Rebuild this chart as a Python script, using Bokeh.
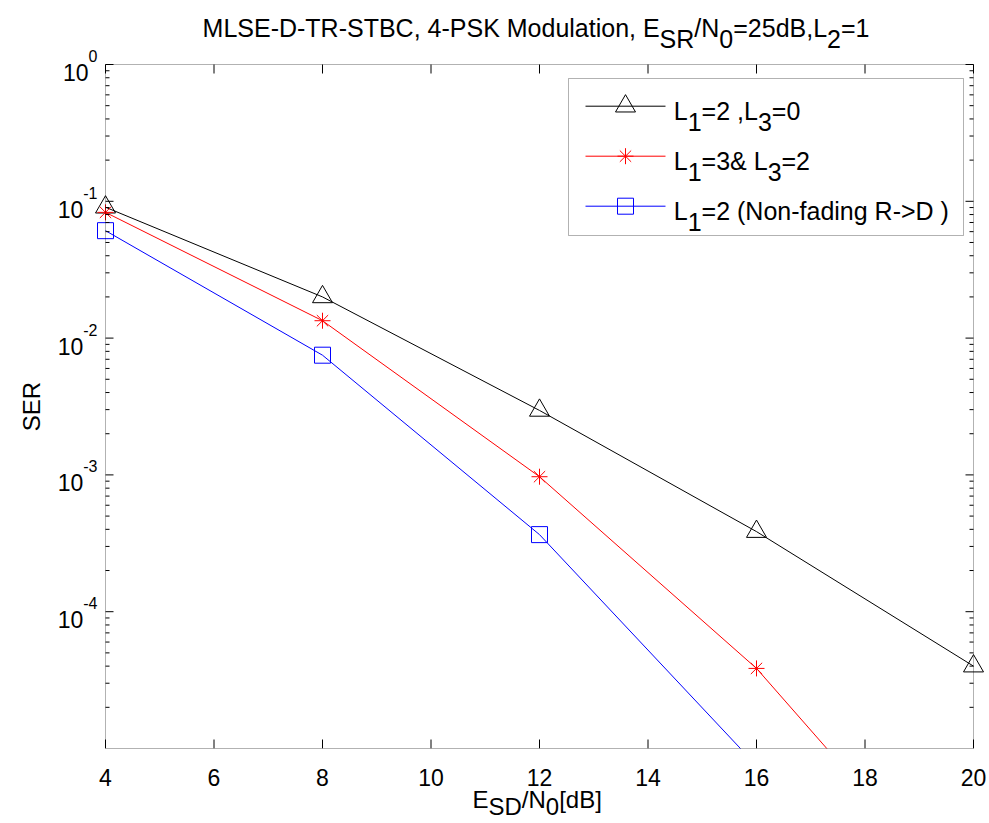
import math
from bokeh.plotting import figure
from bokeh.models import Label, BoxAnnotation, Range1d
from bokeh.embed import file_html
from bokeh.resources import INLINE

# ---------------- data ----------------
snr_black = [4, 8, 12, 16, 20]
ser_black = [0.0905, 0.0200, 0.00296, 0.000385, 4.0e-5]
snr_red = [4, 8, 12, 16, 20]
ser_red = [0.083, 0.0134, 0.00097, 3.85e-5, 6.0e-7]
snr_blue = [4, 8, 12, 16]
ser_blue = [0.061, 0.0075, 0.000366, 7.5e-6]

x_ticks = [4, 6, 8, 10, 12, 14, 16, 18, 20]
x_tick_labels = ["4", "6", "8", "10", "12", "14", "16", "18", "20"]
y_ticks = [1e-4, 1e-3, 1e-2, 1e-1, 1.0]
y_tick_exponents = ["-4", "-3", "-2", "-1", "0"]
y_minor = [k * 10.0 ** d for d in range(-5, 0) for k in range(2, 10)]

# text pieces: (text, is_subscript)
title_parts = [("MLSE-D-TR-STBC, 4-PSK Modulation, E", False), ("SR", True), ("/N", False),
               ("0", True), ("=25dB,L", False), ("2", True), ("=1", False)]
xlabel_parts = [("E", False), ("SD", True), ("/N", False), ("0", True), ("[dB]", False)]
ylabel_text = "SER"
legend_parts = [
    [("L", False), ("1", True), ("=2 ,L", False), ("3", True), ("=0", False)],
    [("L", False), ("1", True), ("=3& L", False), ("3", True), ("=2", False)],
    [("L", False), ("1", True), ("=2 (Non-fading R->D )", False)],
]
series_style = [("black", "triangle", 20), ("red", "asterisk", 16), ("blue", "square", 16)]

FONT = "Liberation Sans"
W = {'M': 833, 'L': 556, 'S': 667, 'E': 667, '-': 333, 'D': 722, 'T': 611, 'R': 722, 'B': 667,
     'C': 722, ',': 278, ' ': 278, '4': 556, 'P': 667, 'K': 667, 'o': 556, 'd': 556, 'u': 556,
     'l': 222, 'a': 556, 't': 278, 'i': 222, 'n': 556, '/': 278, 'N': 722, '0': 556, '=': 584,
     '2': 556, '5': 556, '1': 556, '3': 556, '&': 667, '(': 333, ')': 333, 'f': 278, 'g': 556,
     '>': 584, '[': 278, ']': 278}


def tw(s, size):
    return sum(W.get(c, 556) for c in s) * size / 1000.0


# canvas and axes-box geometry (pixels)
CW, CH = 988, 822
FL, FR, FT, FB = 105.0, 973.0, 64.0, 748.0
XMIN, XMAX = 4.0, 20.0
YMIN, YMAX = 1e-5, 1.0
LOG_SPAN = math.log10(YMAX) - math.log10(YMIN)


def X(px):
    return XMIN + (px - FL) / (FR - FL) * (XMAX - XMIN)


def Y(py):
    return 10 ** (math.log10(YMAX) - LOG_SPAN * (py - FT) / (FB - FT))


def PY(v):
    return FT + (math.log10(YMAX) - math.log10(v)) / LOG_SPAN * (FB - FT)


p = figure(width=CW, height=CH, x_range=Range1d(X(0), X(CW)), y_range=Range1d(Y(CH), Y(0)),
           y_axis_type="log", x_axis_location=None, y_axis_location=None,
           toolbar_location=None, output_backend="svg", title=None, min_border=0)
p.background_fill_color = "white"
p.border_fill_color = "white"
p.outline_line_color = None
for g in p.grid:
    g.visible = False
p.xgrid.grid_line_color = None
p.ygrid.grid_line_color = None

# ---------------- series ----------------
series = [(snr_black, ser_black), (snr_red, ser_red), (snr_blue, ser_blue)]
for (xs, ys), (col, mk, sz) in zip(series, series_style):
    p.line(xs, ys, line_color=col, line_width=1)
    p.scatter(xs, ys, marker=mk, size=sz, line_color=col, fill_color=None, line_width=1)

# mask everything that falls below the axes box (acts as the axes clip)
p.add_layout(BoxAnnotation(top=YMIN, fill_color="white", fill_alpha=1.0, line_color=None,
                           level="annotation"))

# ---------------- axes box and ticks ----------------
p.add_layout(BoxAnnotation(left=XMIN, right=XMAX, bottom=YMIN, top=YMAX, fill_color=None,
                           line_color="black", line_width=1, level="overlay"))
MAJ, MIN_ = 9, 4
# x ticks, bottom and top, pointing inward
p.segment(x0=x_ticks, y0=[YMIN] * len(x_ticks), x1=x_ticks, y1=[Y(FB - MAJ)] * len(x_ticks),
          line_color="black", line_width=1)
p.segment(x0=x_ticks, y0=[YMAX] * len(x_ticks), x1=x_ticks, y1=[Y(FT + MAJ)] * len(x_ticks),
          line_color="black", line_width=1)
# y ticks, left and right
for ticks, ln in ((y_ticks, MAJ - 1), (y_minor, MIN_)):
    n = len(ticks)
    p.segment(x0=[XMIN] * n, y0=ticks, x1=[X(FL + ln)] * n, y1=ticks, line_color="black", line_width=1)
    p.segment(x0=[XMAX] * n, y0=ticks, x1=[X(FR - ln)] * n, y1=ticks, line_color="black", line_width=1)


def add_label(px, py, text, size, align="left", angle=0.0):
    p.add_layout(Label(x=X(px), y=Y(py), text=text, text_font=FONT, text_font_size=f"{size}px",
                       text_color="black", text_align=align, text_baseline="alphabetic",
                       angle=angle, level="overlay"))


def place_parts(parts, x0, base_py, size, drop):
    x = x0
    for text, sub in parts:
        add_label(x, base_py + (drop if sub else 0), text, size)
        x += tw(text, size)


def parts_width(parts, size):
    return sum(tw(t, size) for t, _ in parts)


# x tick labels
for t, lab in zip(x_ticks, x_tick_labels):
    p.add_layout(Label(x=t, y=Y(777.3), text=lab, text_font=FONT, text_font_size="23px",
                       text_color="black", text_align="center", text_baseline="alphabetic",
                       level="overlay"))

# y tick labels: 10 with superscript exponent
for t, e in zip(y_ticks, y_tick_exponents):
    ty = PY(t)
    add_label(97, ty - 8.6, e, 16, align="right")
    add_label(97 - tw(e, 16), ty + 8, "10", 23, align="right")

# title
TS = 25
place_parts(title_parts, 535.5 - parts_width(title_parts, TS) / 2, 27.3, TS, 11)
# x label
XS = 24
place_parts(xlabel_parts, 536.7 - parts_width(xlabel_parts, XS) / 2, 799, XS, 7)
# y label
add_label(31, 406, ylabel_text, 24, align="center", angle=math.pi / 2)

# ---------------- legend ----------------
p.add_layout(BoxAnnotation(left=X(568), right=X(963), top=Y(78), bottom=Y(235),
                           fill_color="white", fill_alpha=1.0, line_color="black",
                           line_width=1, level="underlay"))
row_y = [105.7, 155.7, 205.7]
for ly, (col, mk, sz), parts in zip(row_y, series_style, legend_parts):
    p.line([X(585), X(665)], [Y(ly), Y(ly)], line_color=col, line_width=1)
    p.scatter([X(625)], [Y(ly)], marker=mk, size=sz, line_color=col, fill_color=None, line_width=1)
    place_parts(parts, 673.3, ly + 4.3, 25, 11.7)

open("out.html", "w").write(file_html(p, INLINE))
